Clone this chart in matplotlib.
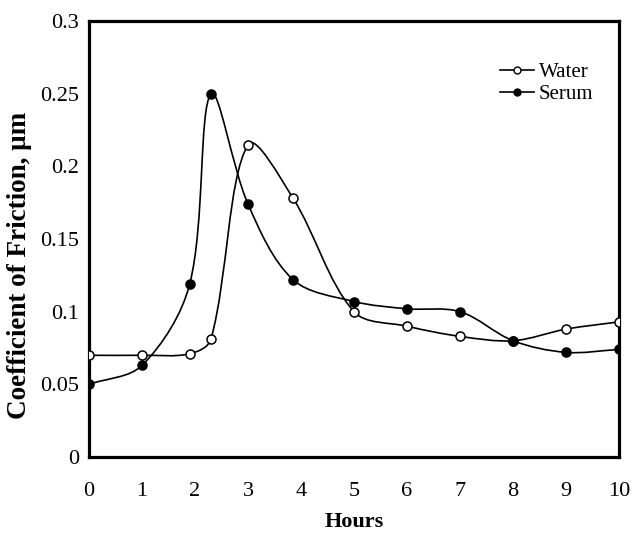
import numpy as np
import matplotlib
matplotlib.use('Agg')
import matplotlib.pyplot as plt
from matplotlib.path import Path
from matplotlib.patches import PathPatch
from matplotlib.lines import Line2D

# Data
hours = [0, 1, 1.9, 2.3, 3, 3.85, 5, 6, 7, 8, 9, 10]
water = [0.070, 0.070, 0.071, 0.081, 0.215, 0.178, 0.100, 0.090, 0.083, 0.080, 0.088, 0.093]
serum = [0.050, 0.063, 0.119, 0.250, 0.174, 0.122, 0.107, 0.102, 0.100, 0.080, 0.072, 0.074]

xticks = list(range(0, 11))
yticks = [0, 0.05, 0.1, 0.15, 0.2, 0.25, 0.3]
ytick_labels = ['0', '0.05', '0.1', '0.15', '0.2', '0.25', '0.3']

plt.rcParams['font.family'] = ['Liberation Serif', 'DejaVu Serif']

# rough pixel scale of the axes, used so the smoothing behaves like on screen
SX, SY = 530 / 10, 436 / 0.3


def smooth_path(x, y):
    # smoothed line: Bezier segments with chord-weighted tangents (Excel-like)
    pts = np.column_stack([x, y]).astype(float)
    scr = pts * [SX, SY]
    n = len(pts)
    verts = [pts[0]]
    codes = [Path.MOVETO]
    for i in range(n - 1):
        i0 = max(i - 1, 0)
        i3 = min(i + 2, n - 1)
        d01 = np.hypot(*(scr[i] - scr[i0]))
        d12 = np.hypot(*(scr[i + 1] - scr[i]))
        d23 = np.hypot(*(scr[i3] - scr[i + 1]))
        f1 = d12 / (d01 + d12) / 3 if d01 > 0 else 1 / 3
        f2 = d12 / (d12 + d23) / 3 if d23 > 0 else 1 / 3
        if d01 > 0:
            c1 = pts[i] + (pts[i + 1] - pts[i0]) * f1
        else:
            c1 = pts[i] + (pts[i + 1] - pts[i]) * f1
        if d23 > 0:
            c2 = pts[i + 1] - (pts[i3] - pts[i]) * f2
        else:
            c2 = pts[i + 1] - (pts[i + 1] - pts[i]) * f2
        verts += [c1, c2, pts[i + 1]]
        codes += [Path.CURVE4] * 3
    return Path(verts, codes)


fig = plt.figure(figsize=(6.33, 5.35), dpi=100)
ax = fig.add_axes([0.1406, 0.1458, 0.8374, 0.8149])

for ys, face in [(water, 'white'), (serum, 'black')]:
    ax.add_patch(PathPatch(smooth_path(hours, ys), fill=False, edgecolor='black', lw=1.2, zorder=2))
    ax.plot(hours, ys, linestyle='none', marker='o', markersize=6.5,
            markerfacecolor=face, markeredgecolor='black', markeredgewidth=1.1, zorder=3)

ax.set_xlim(0, 10)
ax.set_ylim(0, 0.3)
ax.set_xticks(xticks)
ax.set_yticks(yticks)
ax.set_yticklabels(ytick_labels)
ax.tick_params(length=0, labelsize=16)
ax.tick_params(axis='x', pad=18)
ax.tick_params(axis='y', pad=7)
for sp in ax.spines.values():
    sp.set_linewidth(2.3)

ax.set_xlabel('Hours', fontsize=16, fontweight='bold')
ax.set_ylabel('Coefficient of Friction, μm', fontsize=19.5, fontweight='bold')
ax.xaxis.set_label_coords(0.5, -0.127)
ax.yaxis.set_label_coords(-0.107, 0.44)

handles = [
    Line2D([], [], color='black', lw=1.2, marker='o', markersize=5,
           markerfacecolor='white', markeredgecolor='black'),
    Line2D([], [], color='black', lw=1.2, marker='o', markersize=5,
           markerfacecolor='black', markeredgecolor='black'),
]
ax.legend(handles, ['Water', 'Serum'], loc='upper left', bbox_to_anchor=(0.776, 0.904),
          frameon=False, fontsize=15, handlelength=1.6, handletextpad=0.25,
          labelspacing=0.1, borderpad=0, borderaxespad=0)

fig.savefig('out.png', dpi=100)
